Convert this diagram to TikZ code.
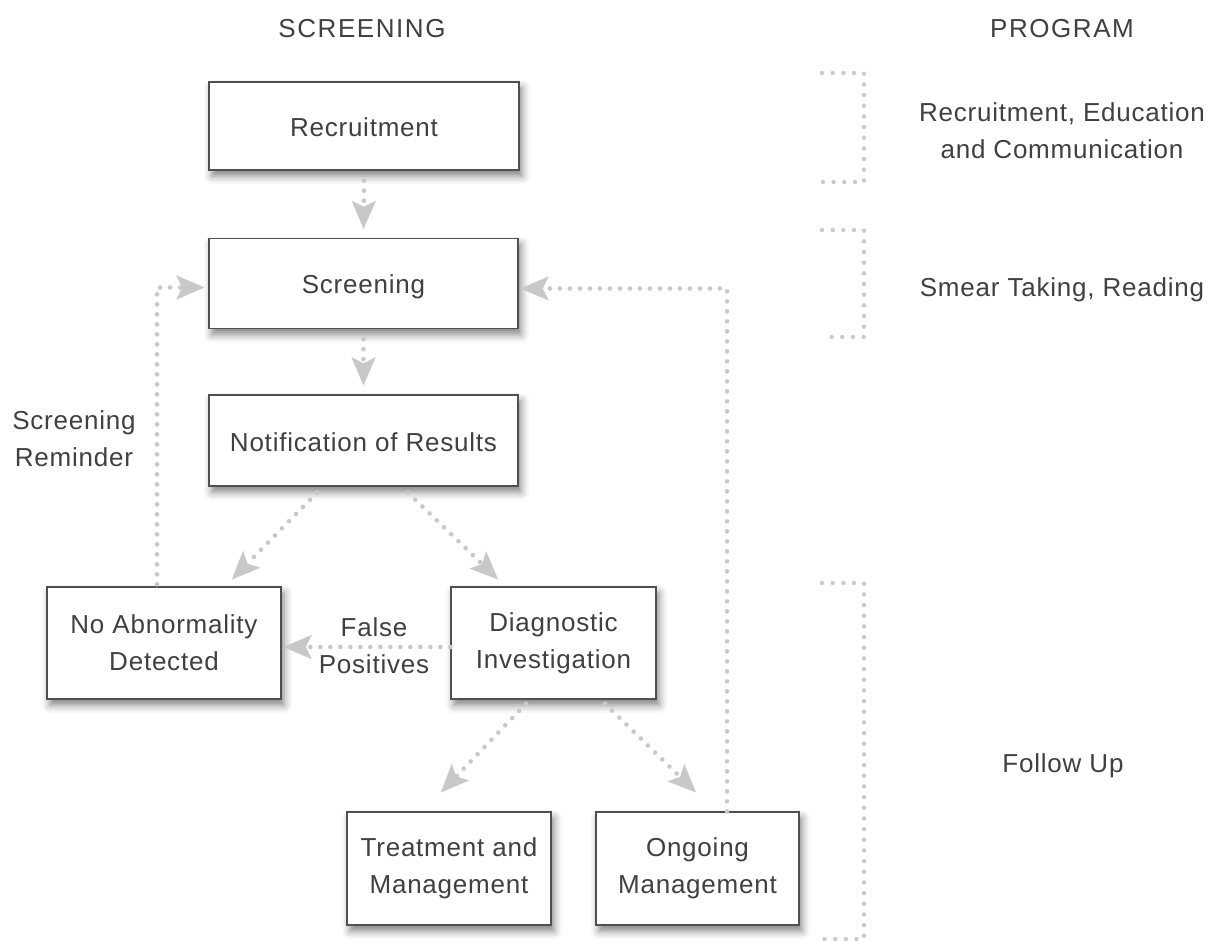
\documentclass[tikz,border=0pt]{standalone}
\usepackage{fontspec}
\setmainfont{Liberation Sans}[LetterSpace=3]
\newfontfamily\headfont{Liberation Sans}[LetterSpace=6]
\usetikzlibrary{arrows.meta,calc,shadows.blur}
\definecolor{txt}{HTML}{404040}
\definecolor{edgec}{HTML}{505050}
\definecolor{dotc}{HTML}{C8C8C8}
\definecolor{brc}{HTML}{CACACA}
\begin{document}
\begin{tikzpicture}[x=1pt,y=-1pt,
  every node/.style={text=txt, font=\fontsize{26}{37}\selectfont, align=center, inner sep=0pt},
  box/.style={draw=edgec, line width=1.3pt, fill=white,
    blur shadow={shadow xshift=3pt, shadow yshift=-6pt, shadow blur radius=8pt, shadow opacity=50}},
  oneline/.style={text height=24pt, text depth=3pt},
  head/.style={font=\headfont\fontsize{26}{37}\selectfont},
  conn/.style={draw=dotc, line width=4.6pt, line cap=round, dash pattern=on 0pt off 10pt,
    -{Stealth[length=28pt, width=24pt, inset=6pt, line width=0.01pt, fill=dotc]}},
  bracket/.style={draw=brc, line width=4.4pt, line cap=round, dash pattern=on 0pt off 10.67pt}
]
\useasboundingbox (0,0) rectangle (1215,941);

% headers
\node[head] (hs) at (362,29) {SCREENING};
\node[head] (hp) at (1062,29) {PROGRAM};

% boxes
\node[box, oneline, minimum width=310pt, minimum height=88pt] (rec) at (364,126) {Recruitment};
\node[box, oneline, minimum width=309pt, minimum height=90pt] (scr) at (363.5,283.5) {Screening};
\node[box, oneline, minimum width=309pt, minimum height=91pt] (noti) at (363.5,440.5) {Notification of Results};
\node[box, minimum width=234pt, minimum height=112pt] (noab) at (164,643) {No Abnormality\\Detected};
\node[box, minimum width=205pt, minimum height=112pt] (diag) at (553.5,643) {Diagnostic\\Investigation};
\node[box, minimum width=204pt, minimum height=113pt] (treat) at (449,868.5) {Treatment and\\Management};
\node[box, minimum width=203pt, minimum height=113pt] (ongo) at (697.5,868.5) {Ongoing\\Management};

% labels
\node (rem) at (74,439) {Screening\\Reminder};
\node (fp) at (374,646) {False\\Positives};

% right column texts
\node (p1) at (1062,131) {Recruitment, Education\\and Communication};
\node (p2) at (1062,290) {Smear Taking, Reading};
\node (p3) at (1063,766) {Follow Up};

% connectors
\draw[conn, shorten <=10pt, shorten >=9pt] (rec.south) -- (scr.north);
\draw[conn, shorten <=10pt, shorten >=9pt] (scr.south) -- (noti.north);
\draw[conn] ($(noti.south)+(-46.5,6)$) -- ($(noab.north)+(68,-7)$);
\draw[conn] ($(noti.south)+(44.5,6)$) -- ($(diag.north)+(-55.5,-7)$);
\draw[conn, shorten >=2pt] ($(diag.west)+(0,4)$) -- ($(noab.east)+(0,4)$);
\draw[conn] ($(diag.south)+(-27.5,4)$) -- ($(treat.north)+(-8,-19)$);
\draw[conn] ($(diag.south)+(51.5,4)$) -- ($(ongo.north)+(-1.5,-19)$);
\draw[conn, shorten >=2pt] ($(ongo.north)+(29.5,0)$) |- ($(scr.east)+(0,5)$);
\draw[conn, shorten >=4pt] ($(noab.north)+(-7,-2)$) |- ($(scr.west)+(0,4)$);

% program brackets
\draw[bracket] (822,73) -- (864,73) -- (864,182) -- (822,182);
\draw[bracket] (822,230) -- (864,230) -- (864,337) -- (822,337);
\draw[bracket] (822,583) -- (864,583) -- (864,939) -- (822,939);
\end{tikzpicture}
\end{document}
